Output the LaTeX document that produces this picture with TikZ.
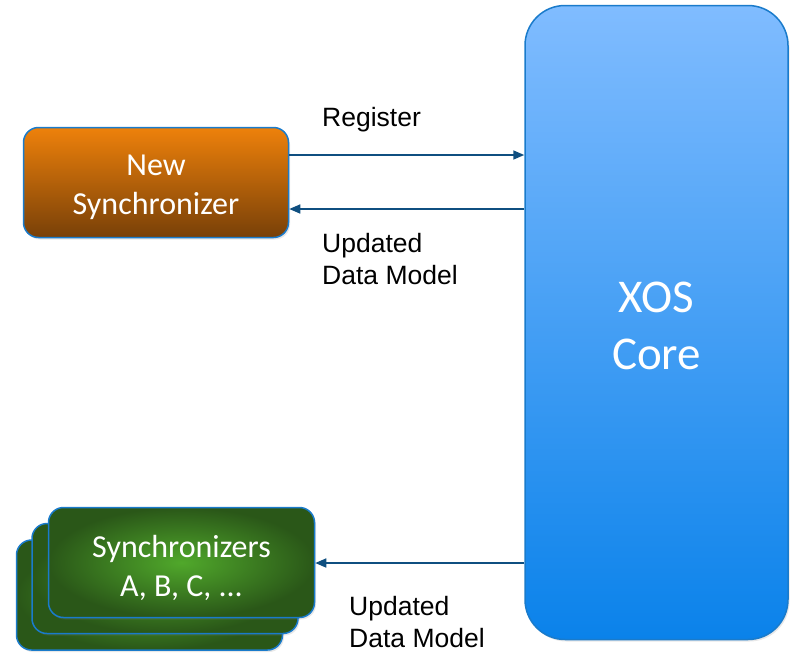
\documentclass[tikz,border=0pt]{standalone}
\usepackage{fontspec}
\setmainfont{Carlito}
\newfontfamily\arialf{Liberation Sans}
\usetikzlibrary{arrows.meta,shadows}
\definecolor{edgeblue}{HTML}{1A7BCB}
\definecolor{arrowblue}{HTML}{0F4F80}
\definecolor{xostop}{HTML}{80BCFF}
\definecolor{xosbot}{HTML}{0A82EA}
\definecolor{orgtop}{HTML}{EE810B}
\definecolor{orgbot}{HTML}{784008}
\definecolor{grnin}{HTML}{50A82B}
\definecolor{grnout}{HTML}{2A5718}
\tikzset{
  box/.style={draw=edgeblue, line width=1.5pt, rounded corners=15pt, inner sep=0pt,
    drop shadow={opacity=0.18, shadow xshift=1.5pt, shadow yshift=-2pt}},
  boxtext/.style={text=white, align=center, font=\fontsize{32}{39}\selectfont, inner sep=0pt},
  greenbox/.style={box, minimum width=266pt, minimum height=110pt,
    inner color=grnin, outer color=grnout},
  arr/.style={draw=arrowblue, line width=1.6pt, -{Triangle[length=11pt,width=9pt]}},
  lbl/.style={font=\arialf\fontsize{26.5}{32}\selectfont, text=black, align=left, inner sep=0pt}
}
\begin{document}
\begin{tikzpicture}[x=1pt,y=-1pt]
\useasboundingbox (0,0) rectangle (790,654);
% XOS core
\node[box, rounded corners=40pt, minimum width=263pt, minimum height=634pt,
  top color=xostop, bottom color=xosbot,
  label={[boxtext, font=\fontsize{47}{57}\selectfont, yshift=-3pt]center:XOS\\Core}]
  (xos) at (656.5,322.5) {};
% New synchronizer
\node[box, minimum width=265pt, minimum height=110pt,
  top color=orgtop, bottom color=orgbot,
  label={[boxtext, yshift=-5pt]center:New\\Synchronizer}] (nsync) at (156,182.5) {};
% Green stack
\node[greenbox] (g3) at (149.5,595) {};
\node[greenbox] (g2) at (165,578.5) {};
\node[greenbox, label={[boxtext, yshift=-5pt]center:Synchronizers\\A, B, C, ...}] (g1) at (181.5,562.5) {};
% connectors
\coordinate (r1) at ([yshift=27.5pt]nsync.east);
\coordinate (u1) at ([yshift=-26.5pt]xos.west |- nsync.east);
\coordinate (u2) at ([yshift=-0.5pt]xos.west |- g1.east);
\draw[arr] (r1) -- (r1 -| xos.west);
\draw[arr] (u1) -- (u1 -| nsync.east);
\draw[arr] (u2) -- (u2 -| g1.east);
% labels
\node[lbl, anchor=base west] (lreg) at (322,126) {Register};
\node[lbl, anchor=north west] (lupd1) at (322,233) {Updated\\Data Model};
\node[lbl, anchor=north west] (lupd2) at (349,596) {Updated\\Data Model};
\end{tikzpicture}
\end{document}
